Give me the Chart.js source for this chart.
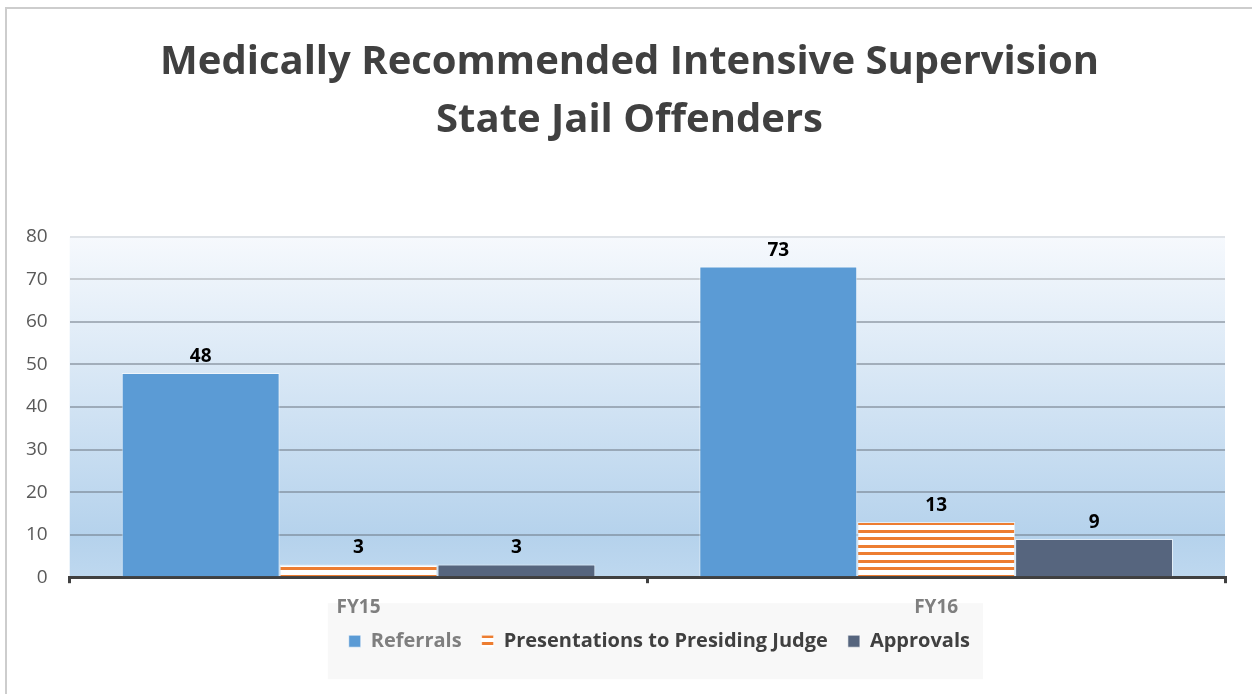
<!DOCTYPE html>
<html>
<head>
<meta charset="utf-8">
<title>Medically Recommended Intensive Supervision</title>
<script src="https://cdn.jsdelivr.net/npm/chart.js@4.4.1/dist/chart.umd.min.js"></script>
<style>
  html, body { margin:0; padding:0; background:#fff; }
  #wrap { width:1252px; height:694px; }
</style>
</head>
<body>
<div id="wrap"><canvas id="chart" width="1252" height="694"></canvas></div>
<script>
(function(){
  // data
  const categories = ['FY15', 'FY16'];
  const referrals = [48, 73];
  const presentations = [3, 13];
  const approvals = [3, 9];
  const seriesNames = ['Referrals', 'Presentations to Presiding Judge', 'Approvals'];
  const yTicks = [0, 10, 20, 30, 40, 50, 60, 70, 80];
  const titleLines = ['Medically Recommended Intensive Supervision', 'State Jail Offenders'];

  const FONT = '"Open Sans", Lato, "Liberation Sans", sans-serif';
  const canvas = document.getElementById('chart');
  const ctx = canvas.getContext('2d');

  // orange horizontal stripes for the second series
  function stripes(){
    const c = document.createElement('canvas');
    c.width = 8; c.height = 15;
    const g = c.getContext('2d');
    g.fillStyle = '#ffffff'; g.fillRect(0, 0, 8, 15);
    g.fillStyle = '#ed7d31';
    g.fillRect(0, 12, 8, 3);
    g.fillRect(0, 5, 8, 3);
    return ctx.createPattern(c, 'repeat');
  }

  // frame, plot background, legend panel
  const backdrop = {
    id: 'backdrop',
    afterLayout(chart){
      const a = chart.chartArea;
      // title sits a bit right of the canvas centre
      if (chart.titleBlock){ chart.titleBlock.left += 15; chart.titleBlock.right += 15; }
      // legend: right of plot centre, tucked up under the axis labels
      const lg = chart.legend;
      if (lg){
        const dy = (a.bottom + 34) - lg.top;
        lg.left += 12; lg.right += 12;
        lg.top += dy; lg.bottom += dy;
      }
    },
    beforeDraw(chart){
      const c = chart.ctx, a = chart.chartArea;
      c.save();
      c.strokeStyle = '#cdcdcd'; c.lineWidth = 2;
      c.strokeRect(6, 8, chart.width + 20, chart.height + 20);

      const g = c.createLinearGradient(0, a.top, 0, a.bottom);
      g.addColorStop(0, '#f6f9fd');
      g.addColorStop(0.88, '#b5d2ec');
      g.addColorStop(1, '#bed8ef');
      c.fillStyle = g;
      c.fillRect(a.left, a.top, a.right - a.left, a.bottom - a.top);

      const hb = chart.legend && chart.legend.legendHitBoxes;
      if (hb && hb.length){
        const l = Math.min(...hb.map(b => b.left)) - 21;
        const r = Math.max(...hb.map(b => b.left + b.width)) + 13;
        const cy = hb[0].top + hb[0].height / 2;
        c.fillStyle = '#f8f8f8';
        c.fillRect(l, cy - 38, r - l, 76);
      }
      c.restore();
    }
  };

  // value labels above bars
  const valueLabels = {
    id: 'valueLabels',
    afterDatasetsDraw(chart){
      const c = chart.ctx;
      c.save();
      c.font = 'bold 19px ' + FONT;
      c.fillStyle = '#000';
      c.textAlign = 'center';
      c.textBaseline = 'alphabetic';
      chart.data.datasets.forEach((ds, i) => {
        chart.getDatasetMeta(i).data.forEach((bar, j) => {
          c.fillText(ds.data[j], bar.x, bar.y - 11);
        });
      });
      c.restore();
    }
  };

  const legendColors = ['#7f7f7f', '#404040', '#404040'];

  new Chart(canvas, {
    type: 'bar',
    data: {
      labels: categories,
      datasets: [
        { label: seriesNames[0], data: referrals, backgroundColor: '#5b9bd5' },
        { label: seriesNames[1], data: presentations, backgroundColor: stripes() },
        { label: seriesNames[2], data: approvals, backgroundColor: '#56657e' }
      ]
    },
    options: {
      responsive: false,
      animation: false,
      layout: { padding: { top: 0, left: 4, right: 27, bottom: 12 } },
      datasets: {
        bar: {
          categoryPercentage: 0.82,
          barPercentage: 1,
          borderColor: 'rgba(255,255,255,0.6)',
          borderWidth: 1
        }
      },
      scales: {
        x: {
          grid: { offset: true, drawOnChartArea: false, drawTicks: true, tickLength: 6, color: '#404040', lineWidth: 3 },
          border: { display: true, color: '#404040', width: 3 },
          ticks: { color: '#7f7f7f', padding: 13, font: { family: FONT, size: 19, weight: 'bold' } }
        },
        y: {
          min: yTicks[0],
          max: yTicks[yTicks.length - 1],
          afterBuildTicks(scale){ scale.ticks = yTicks.map(v => ({ value: v })); },
          grid: {
            drawTicks: false,
            lineWidth: 2,
            color: c => c.tick && c.tick.value === 80 ? '#dfe3e8' : (c.tick && c.tick.value === 70 ? '#c6cbd1' : 'rgba(105,116,128,0.5)')
          },
          border: { display: false },
          ticks: { color: '#595959', padding: 22, font: { family: FONT, size: 19 } }
        }
      },
      plugins: {
        title: {
          display: true,
          text: titleLines,
          color: '#404040',
          font: { family: FONT, size: 40, weight: 'bold', lineHeight: 1.46 },
          padding: { top: 33, bottom: 87 }
        },
        legend: {
          position: 'bottom',
          fullSize: false,
          labels: {
            boxWidth: 12,
            boxHeight: 12,
            padding: 20,
            font: { family: FONT, size: 20, weight: 'bold' },
            generateLabels(chart){
              const items = Chart.defaults.plugins.legend.labels.generateLabels(chart);
              items.forEach((it, i) => {
                it.fontColor = legendColors[i];
                it.strokeStyle = 'rgba(255,255,255,0.6)';
                it.lineWidth = 1;
              });
              return items;
            }
          }
        },
        tooltip: { enabled: false }
      }
    },
    plugins: [backdrop, valueLabels]
  });
})();
</script>
</body>
</html>
